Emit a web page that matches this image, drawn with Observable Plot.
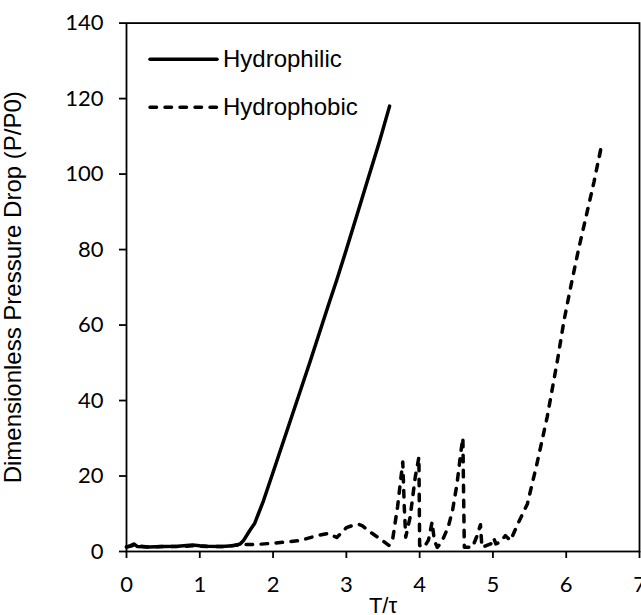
<!DOCTYPE html>
<html><head><meta charset="utf-8">
<script src="https://cdn.jsdelivr.net/npm/d3@7"></script>
<script src="https://cdn.jsdelivr.net/npm/@observablehq/plot@0.6"></script>
<style>
body{margin:0;background:#fff}
#wrap{position:relative;width:641px;height:615px;overflow:hidden;background:#fff}
#legend{position:absolute;left:0;top:0}
</style>
</head><body><div id="wrap"></div>
<script>
// Hydrophilic (solid)
const hydrophilicT = [0, 0.05, 0.1, 0.15, 0.3, 0.5, 0.7, 0.9, 1.0, 1.1, 1.3, 1.45, 1.55, 1.6, 1.68, 1.75, 1.8, 1.87, 2.0, 2.25, 2.5, 2.75, 2.87, 3.0, 3.15, 3.3, 3.45, 3.59];
const hydrophilicP = [1.2, 1.5, 2.0, 1.3, 1.2, 1.3, 1.4, 1.7, 1.5, 1.4, 1.3, 1.5, 2.0, 3.0, 5.5, 7.5, 10, 13.5, 21, 35.5, 50, 65, 72, 80, 89.5, 99, 108.5, 118];
// Hydrophobic (dashed)
const hydrophobicT = [0, 0.1, 0.3, 0.5, 0.7, 0.9, 1.1, 1.3, 1.55, 1.8, 2.0, 2.37, 2.6, 2.75, 2.87, 3.0, 3.1, 3.17, 3.22, 3.33, 3.45, 3.58, 3.63, 3.7, 3.74, 3.77, 3.79, 3.81, 3.87, 3.94, 3.99, 4.0, 4.06, 4.12, 4.17, 4.2, 4.24, 4.3, 4.37, 4.39, 4.45, 4.51, 4.56, 4.59, 4.6, 4.61, 4.72, 4.78, 4.83, 4.85, 4.97, 5.01, 5.04, 5.1, 5.17, 5.24, 5.33, 5.47, 5.6, 5.74, 5.88, 5.97, 6.06, 6.17, 6.28, 6.38, 6.48, 6.45];
const hydrophobicP = [1.2, 1.6, 1.2, 1.3, 1.3, 1.5, 1.3, 1.3, 1.8, 1.9, 2.2, 2.9, 4.2, 4.8, 3.7, 6.3, 7.0, 7.2, 6.8, 5.1, 3.5, 1.6, 3.0, 12, 18.8, 23.7, 12, 3.8, 9.1, 19.7, 25, 1.6, 1.1, 3.0, 7.8, 3.0, 1.1, 2.5, 5.6, 6.5, 11, 17.9, 26, 30.1, 15, 1.1, 1.1, 4.0, 7.1, 1.1, 2.0, 3.6, 2.0, 2.5, 4.2, 2.9, 6.9, 12.6, 23.2, 35.6, 50.6, 61.2, 70, 80.2, 89.5, 98, 107.5, 104.4];
const xTicks = [0, 1, 2, 3, 4, 5, 6, 7];
const yTicks = [0, 20, 40, 60, 80, 100, 120, 140];
const seriesNames = ["Hydrophilic", "Hydrophobic"];
const seriesDash = ["none", "6.5,8.5"];
const xTitle = "T/τ";
const yTitle = "Dimensionless Pressure Drop (P/P0)";

const philic = hydrophilicT.map((t, i) => ({T: t, P: hydrophilicP[i]}));
const phobic = hydrophobicT.map((t, i) => ({T: t, P: hydrophobicP[i]}));

const tickFont = "Lato, 'Open Sans', sans-serif";
const titleFont = "'Liberation Sans', Arial, sans-serif";

const chart = Plot.plot({
  width: 641, height: 615,
  marginLeft: 126, marginRight: 2, marginTop: 22.6, marginBottom: 64,
  x: {domain: [0, 7]},
  y: {domain: [0, 140]},
  style: {background: "white", color: "black"},
  marks: [
    Plot.frame({stroke: "black", strokeWidth: 1.8}),
    Plot.axisX(xTicks, {tickSize: 7, tickPadding: 18, fontSize: 22, fontFamily: tickFont, label: null, strokeWidth: 1.8}),
    Plot.axisY(yTicks, {tickSize: 7, tickPadding: 16, fontSize: 22, fontFamily: tickFont, label: null, strokeWidth: 1.8}),
    Plot.line(phobic, {x: "T", y: "P", stroke: "black", strokeWidth: 3.5, strokeDasharray: seriesDash[1], strokeLinecap: "round", strokeLinejoin: "round"}),
    Plot.line(philic, {x: "T", y: "P", stroke: "black", strokeWidth: 3.5, strokeLinecap: "round", strokeLinejoin: "round"}),
    Plot.text([yTitle], {frameAnchor: "left", textAnchor: "middle", dx: -113, rotate: -90, fontSize: 24, fontFamily: titleFont, fill: "black"}),
    Plot.text([xTitle], {frameAnchor: "bottom", textAnchor: "middle", dy: 46, lineAnchor: "top", fontSize: 22, fontFamily: titleFont, fill: "black"})
  ]
});
const wrap = document.getElementById("wrap");
wrap.appendChild(chart);

// Legend overlay
const lg = d3.select(wrap).append("svg").attr("id", "legend").attr("width", 641).attr("height", 615);
seriesNames.forEach((name, i) => {
  const y = 59.3 + i * 48;
  lg.append("line").attr("x1", 150).attr("x2", 217).attr("y1", y).attr("y2", y)
    .attr("stroke", "black").attr("stroke-width", 3.5).attr("stroke-linecap", "round")
    .attr("stroke-dasharray", seriesDash[i]);
  lg.append("text").attr("x", 223).attr("y", y + 8).text(name)
    .attr("font-family", titleFont).attr("font-size", 24).attr("fill", "black");
});
</script>
</body></html>
